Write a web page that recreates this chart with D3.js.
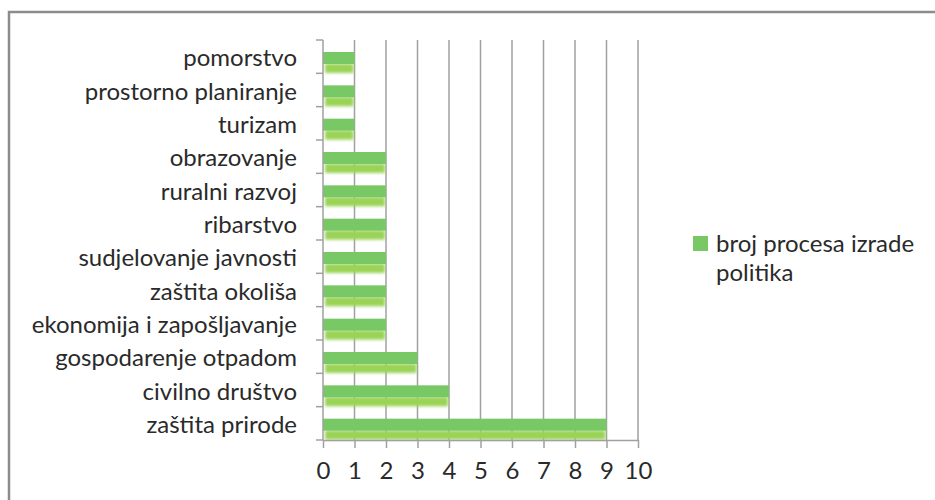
<!DOCTYPE html>
<html lang="hr">
  <head>
    <meta charset="UTF-8" />
    <title>Broj procesa izrade politika</title>
    <style>
      body {
        margin: 0;
        background: #fff;
        font-family: Lato, "Open Sans", sans-serif;
      }
      .frame {
        fill: none;
        stroke: #8c8c8c;
        stroke-width: 2.5px;
      }
      .grid line {
        stroke: #a0a0a0;
        stroke-width: 1.5px;
      }
      .axis path,
      .axis line {
        stroke: #a0a0a0;
        stroke-width: 1.5px;
      }
      .axis text {
        fill: #2a2a2a;
      }
    </style>
  </head>
  <body>
    <div class="chart"></div>
    <script src="https://cdn.jsdelivr.net/npm/d3@7"></script>
    <script>
      // data, top to bottom as in the chart
      var categories = [
        "pomorstvo",
        "prostorno planiranje",
        "turizam",
        "obrazovanje",
        "ruralni razvoj",
        "ribarstvo",
        "sudjelovanje javnosti",
        "zaštita okoliša",
        "ekonomija i zapošljavanje",
        "gospodarenje otpadom",
        "civilno društvo",
        "zaštita prirode"
      ];
      var values = [1, 1, 1, 2, 2, 2, 2, 2, 2, 3, 4, 9];
      var xTicks = [0, 1, 2, 3, 4, 5, 6, 7, 8, 9, 10];
      var seriesName = ["broj procesa izrade", "politika"];

      var W = 935,
        H = 500;
      var margin = { top: 40, left: 323, plotW: 315, plotH: 400 };

      var svg = d3
        .select(".chart")
        .append("svg")
        .attr("width", W)
        .attr("height", H);

      var defs = svg.append("defs");
      defs
        .append("filter")
        .attr("id", "blur")
        .attr("x", "-10%")
        .attr("y", "-60%")
        .attr("width", "120%")
        .attr("height", "220%")
        .append("feGaussianBlur")
        .attr("stdDeviation", 1.8);

      // outer frame (runs past the window on the right and bottom)
      svg
        .append("rect")
        .attr("class", "frame")
        .attr("x", 9)
        .attr("y", 12)
        .attr("width", W + 20)
        .attr("height", H + 20);

      var g = svg
        .append("g")
        .attr("transform", "translate(" + margin.left + "," + margin.top + ")");

      var x = d3.scaleLinear().domain([0, 10]).range([0, margin.plotW]);
      var y = d3
        .scaleBand()
        .domain(categories)
        .range([0, margin.plotH])
        .paddingInner(0)
        .paddingOuter(0);

      // vertical grid lines
      g.append("g")
        .attr("class", "grid")
        .selectAll("line")
        .data(xTicks.slice(1))
        .enter()
        .append("line")
        .attr("x1", (d) => x(d))
        .attr("x2", (d) => x(d))
        .attr("y1", 0)
        .attr("y2", margin.plotH);

      // bars: solid bar plus blurred reflection under it
      var bw = y.bandwidth();
      var bar = g
        .selectAll(".bar")
        .data(categories)
        .enter()
        .append("g")
        .attr("class", "bar");

      bar
        .append("rect")
        .attr("x", x(0) + 2)
        .attr("y", (d) => y(d) + bw * 0.71)
        .attr("width", (d, i) => x(values[i]) - x(0) - 3)
        .attr("height", bw * 0.28)
        .attr("fill", "#9ad357")
        .attr("filter", "url(#blur)");

      bar
        .append("rect")
        .attr("x", x(0))
        .attr("y", (d) => y(d) + bw * 0.36)
        .attr("width", (d, i) => x(values[i]) - x(0))
        .attr("height", bw * 0.36)
        .attr("fill", "#78c966");

      // category labels
      g.append("g")
        .attr("class", "axis")
        .call(d3.axisLeft(y).tickSize(0).tickPadding(26))
        .call((a) => a.select(".domain").remove())
        .selectAll("text")
        .attr("dy", "0.4em")
        .style("font-size", "24px")
        .style("font-family", "Lato, sans-serif");

      // left axis line with ticks between categories
      var yEdges = categories.map((d) => y(d)).concat([margin.plotH]);
      g.append("line")
        .attr("x1", 0)
        .attr("x2", 0)
        .attr("y1", 0)
        .attr("y2", margin.plotH)
        .attr("stroke", "#a0a0a0")
        .attr("stroke-width", 1.5);
      g.selectAll(".ytick")
        .data(yEdges)
        .enter()
        .append("line")
        .attr("x1", -7)
        .attr("x2", 0)
        .attr("y1", (d) => d)
        .attr("y2", (d) => d)
        .attr("stroke", "#a0a0a0")
        .attr("stroke-width", 1.5);

      g.append("g")
        .attr("class", "axis")
        .attr("transform", "translate(0," + margin.plotH + ")")
        .call(d3.axisBottom(x).tickValues(xTicks).tickSize(8).tickSizeOuter(0).tickPadding(14))
        .selectAll("text")
        .style("font-size", "24px")
        .style("font-family", "Lato, sans-serif");

      // legend
      var legend = svg.append("g").attr("transform", "translate(693,236)");
      legend
        .append("rect")
        .attr("width", 15)
        .attr("height", 15)
        .attr("fill", "#78c966");
      legend
        .append("text")
        .attr("x", 23)
        .attr("y", 16)
        .style("font-size", "24px")
        .attr("fill", "#2a2a2a")
        .selectAll("tspan")
        .data(seriesName)
        .enter()
        .append("tspan")
        .attr("x", 23)
        .attr("dy", (d, i) => (i ? 29 : 0))
        .text((d) => d);
    </script>
  </body>
</html>
